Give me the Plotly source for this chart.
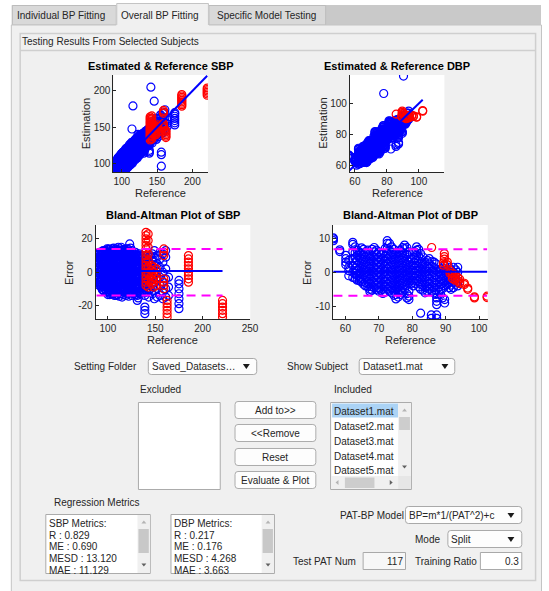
import plotly.graph_objects as go

W, H = 549, 591
FONT = "Liberation Sans, Arial, Helvetica, sans-serif"
INK = "#262626"
BLUE = "#0000ff"
RED = "#ff0000"
MAGENTA = "#ff00ff"

# ---------------- data (mmHg) ----------------
# SBP: reference value of each column of beats, and the errors (estimation - reference)
sbp_blue_ref = [88, 91, 93, 95, 97, 99, 101, 103, 105, 107, 109, 111, 113, 115, 117, 119,
                121, 123, 125, 127, 129, 131, 133, 135, 137, 139, 141, 143, 145, 147, 149,
                152, 155, 158, 161, 164, 175]
sbp_blue_err = [
    [-5, -2, 1, 4, 7, 10],
    [-8, -3, 3, 9, 12],
    [-9, -6, -3, 0, 3, 6, 9, 12],
    [-11, -7, -1, 5, 11, 13],
    [-10, -7, -4, -1, 2, 5, 8, 11, 13],
    [-12, -8, -2, 4, 10, 14],
    [-12, -9, -6, -3, 0, 3, 6, 9, 12, 14],
    [-13, -7, -1, 5, 11],
    [-13, -10, -7, -4, -1, 2, 5, 8, 11, 14],
    [-14, -8, -2, 4, 10, 13],
    [-14, -11, -8, -5, -2, 1, 4, 7, 10, 13],
    [-12, -6, 0, 6, 12, 15],
    [-13, -10, -7, -4, -1, 2, 5, 8, 11, 14],
    [-15, -9, -3, 3, 9, 13],
    [-12, -9, -6, -3, 0, 3, 6, 9, 12],
    [-14, -8, -2, 4, 10, 14],
    [-13, -10, -7, -4, -1, 2, 5, 8, 11, 14],
    [-12, -6, 0, 6, 12, 17],
    [-14, -11, -8, -5, -2, 1, 4, 7, 10, 13],
    [-13, -7, -1, 5, 11],
    [-12, -9, -6, -3, 0, 3, 6, 9, 12],
    [-17, -14, -8, -2, 4, 10],
    [-13, -10, -7, -4, -1, 2, 5, 8, 11],
    [-12, -6, 0, 6, 10],
    [-11, -8, -5, -2, 1, 4, 7, 10],
    [-25, -23, -21, -14, -9, -3, 3, 8],
    [-12, -8, -4, 0, 4, 8],
    [-15, -11, -7, -3, 1, 5, 9],
    [-10, -5, 0, 5, 10],
    [-13, -9, -4, 2, 7, 11],
    [-16, -11, -6, -1, 4, 9, 13],
    [-15, -10, -5, 0, 5, 10],
    [-14, -8, -3, 3, 8, 12],
    [-16, -12, -6, 0, 6, 11],
    [-15, -10, -4, 2, 9, 13],
    [-14, -9, -3],
    [-22, -19, -16, -13, -10, -7, -5],
]
sbp_blue_ref2 = [90, 92, 94, 96, 98, 100, 102, 104, 106, 108, 110, 112, 114, 116, 118,
                 120, 122, 124, 126, 128, 130, 132, 134, 136, 138]
sbp_blue_err2 = [
    [-6.5, -3.5, -0.5, 2.5, 5.5, 8.5, 11],
    [-7.5, -4.5, -1.5, 1.5, 4.5, 7.5, 10.5],
    [-10.5, -7.5, -4.5, -1.5, 1.5, 4.5, 7.5, 10.5, 12.5],
    [-11.5, -8.5, -5.5, -2.5, 0.5, 3.5, 6.5, 9.5, 12.5],
    [-11.5, -8.5, -5.5, -2.5, 0.5, 3.5, 6.5, 9.5, 12.5],
    [-13.5, -10.5, -7.5, -4.5, -1.5, 1.5, 4.5, 7.5, 10.5, 13.5],
    [-13.5, -10.5, -7.5, -4.5, -1.5, 1.5, 4.5, 7.5, 10.5, 13.5],
    [-11.5, -8.5, -5.5, -2.5, 0.5, 3.5, 6.5, 9.5, 12.5],
    [-11.5, -8.5, -5.5, -2.5, 0.5, 3.5, 6.5, 9.5, 12.5, 14.5],
    [-12.5, -9.5, -6.5, -3.5, -0.5, 2.5, 5.5, 8.5, 11.5, 14],
    [-13.5, -10.5, -7.5, -4.5, -1.5, 1.5, 4.5, 7.5, 10.5, 13.5],
    [-14.5, -11.5, -8.5, -5.5, -2.5, 0.5, 3.5, 6.5, 9.5, 12.5],
    [-11.5, -8.5, -5.5, -2.5, 0.5, 3.5, 6.5, 9.5, 12.5, 15],
    [-13.5, -10.5, -7.5, -4.5, -1.5, 1.5, 4.5, 7.5, 10.5, 13.5],
    [-10.5, -7.5, -4.5, -1.5, 1.5, 4.5, 7.5, 10.5, 13.5],
    [-11.5, -8.5, -5.5, -2.5, 0.5, 3.5, 6.5, 9.5, 12.5],
    [-14.5, -11.5, -8.5, -5.5, -2.5, 0.5, 3.5, 6.5, 9.5, 12.5],
    [-12.5, -9.5, -6.5, -3.5, -0.5, 2.5, 5.5, 8.5, 11.5, 14.5],
    [-12.5, -9.5, -6.5, -3.5, -0.5, 2.5, 5.5, 8.5, 11.5],
    [-11.5, -8.5, -5.5, -2.5, 0.5, 3.5, 6.5, 9.5, 12],
    [-13.5, -10.5, -7.5, -4.5, -1.5, 1.5, 4.5, 7.5, 10.5],
    [-15.5, -11.5, -8.5, -5.5, -2.5, 0.5, 3.5, 6.5, 9.5],
    [-11.5, -8.5, -5.5, -2.5, 0.5, 3.5, 6.5, 9.5],
    [-9.5, -6.5, -3.5, -0.5, 2.5, 5.5, 8.5],
    [-12.5, -9.5, -6.5, -3.5, -0.5, 2.5, 5.5],
]
sbp_blue_far_ref = [141.2, 145.9, 115.8, 114.4, 156.0, 156.0, 156.0]
sbp_blue_far_err = [64.0, 40.0, 63.5, 33.0, -40.6, -44.0, -60.0]

sbp_red_ref = [140.2, 142.5, 146, 148.5, 151, 159, 162.5, 185, 221]
sbp_red_err = [
    [24, 22, 20, 18, 16, 14, 12, 10, 8, 6, 4, 2, 0, -2, -4, -6, -8],
    [23, 19, 15, 11, 7, 3, -1, -5, -9],
    [4, 1, -2, -5, -7],
    [3, 0, -3, -6, -9],
    [2, -1, -4, -8],
    [14, 12, 10, -4, -6, -8, -10],
    [-17, -19, -21, -23, -25, -27],
    [10, 8, 6, 4, 2, 0, -2, -4, -6],
    [-17, -19, -21, -23, -25, -27],
]

# DBP
dbp_blue_ref = [56.4, 58.3, 60.1, 61.0, 62.2, 63.5, 64.8, 66.0, 67.3, 68.6, 69.9, 71.2,
                72.5, 73.8, 75.1, 76.4, 77.7, 79.0, 80.3, 81.3, 82.5, 83.8, 85.1, 85.7,
                86.5, 87.3, 88.5, 89.7, 91.0, 92.3, 93.6]
dbp_blue_err = [
    [9.3, 9.8, 10.1],
    [6.6, 6.1],
    [5.0, 4.0, 3.0, 2.2],
    [3.5, 1.5, 0.5, -1.0],
    [8.8, 8.2, 6.0, 4.0, 2.0, 0.0, -1.5],
    [6.5, 5.0, 3.5, 2.0, 0.5, -1.0, -2.3],
    [7.2, 5.5, 4.0, 2.5, 1.0, -0.5, -2.0, -2.8],
    [6.0, 4.5, 3.0, 1.5, 0.0, -1.5, -3.0, -4.0],
    [5.5, 4.0, 2.5, 1.0, -0.5, -2.0, -3.5, -5.0, -5.6],
    [7.3, 6.0, 4.5, 3.0, 1.5, 0.0, -1.5, -3.0, -4.5],
    [6.0, 4.5, 3.0, 1.5, 0.0, -1.5, -3.0, -4.5, -5.5],
    [5.5, 4.0, 2.5, 1.0, -0.5, -2.0, -3.5, -5.0, -6.2],
    [9.3, 8.5, 7.0, 5.5, 4.0, 2.5, 1.0, -0.5, -2.0, -3.5, -5.0],
    [7.5, 6.0, 4.5, 3.0, 1.5, 0.0, -1.5, -3.0, -4.5, -6.0],
    [5.5, 4.0, 2.5, 1.0, -0.5, -2.0, -3.5, -5.0, -6.5, -7.8],
    [6.5, 5.0, 3.5, 2.0, 0.5, -1.0, -2.5, -4.0, -5.5, -6.5],
    [8.0, 7.0, 5.5, 4.0, 2.5, 1.0, -0.5, -2.0, -3.5, -5.0],
    [6.0, 4.5, 3.0, 1.5, 0.0, -1.5, -3.0, -5.5, -7.0, -8.0],
    [2.0, 0.5, -1.0, -2.5, -4.0],
    [7.5, 6.5, 5.0, 3.5, 2.0, 0.5, -1.0, -2.5],
    [5.5, 4.0, 2.5, 1.0, -0.5, -2.0, -3.5, -5.0, -12.0],
    [3.0, 1.5, 0.0, -1.5, -3.0, -4.5, -6.0],
    [4.0, 2.5, 1.0, -0.5, -2.0, -3.5, -5.0],
    [-12.5, -13.5],
    [3.0, 1.5, 0.0, -1.5, -3.0, -4.5, -6.0],
    [-7.5, -8.5, -9.5, -12.5, -13.5],
    [1.0, -0.5, -2.0, -3.5, -5.0, -6.5],
    [2.0, 0.5, -1.0, -2.5, -4.0, -8.0, -9.0],
    [1.5, 0.0, -1.5, -3.0, -4.5],
    [1.5, 0.0, -1.5, -3.0, -4.5],
    [1.5, 0.0, -1.5, -3.0, -4.0],
]
dbp_blue_ref2 = [62.9, 64.2, 65.4, 66.7, 68.0, 69.3, 70.6, 71.9, 73.2, 74.5, 75.8, 77.1,
                 78.4, 79.7, 80.8, 81.9, 83.2, 84.5, 85.9, 87.1, 88.0, 89.1, 90.4, 91.6, 93.0]
dbp_blue_err2 = [
    [7.5, 5.75, 4.25, 2.75, 1.25, -0.25, -1.75],
    [6.0, 4.25, 2.75, 1.25, -0.25, -1.75, -2.5],
    [6.75, 5.25, 3.75, 2.25, 0.75, -0.75, -2.25, -3.5],
    [6.5, 4.75, 3.25, 1.75, 0.25, -1.25, -2.75, -4.25],
    [6.75, 4.75, 3.25, 1.75, 0.25, -1.25, -2.75, -4.25, -5.25],
    [6.5, 5.25, 3.75, 2.25, 0.75, -0.75, -2.25, -3.75, -5.0],
    [5.25, 3.75, 2.25, 0.75, -0.75, -2.25, -3.75, -5.25],
    [7.0, 4.75, 3.25, 1.75, 0.25, -1.25, -2.75, -4.25, -5.75],
    [8.5, 6.25, 4.75, 3.25, 1.75, 0.25, -1.25, -2.75, -4.25, -5.5],
    [6.75, 5.25, 3.75, 2.25, 0.75, -0.75, -2.25, -3.75, -5.25, -6.75],
    [6.0, 4.75, 3.25, 1.75, 0.25, -1.25, -2.75, -4.25, -5.75, -7.25],
    [7.25, 5.75, 4.25, 2.75, 1.25, -0.25, -1.75, -3.25, -4.75, -6.0],
    [7.25, 5.25, 3.75, 2.25, 0.75, -0.75, -2.25, -3.75, -6.25, -7.5],
    [4.0, 2.25, 0.75, -0.75, -2.25, -3.25],
    [6.0, 4.25, 2.75, 1.25, -0.25, -1.75, -3.25],
    [6.75, 4.75, 3.25, 1.75, 0.25, -1.25, -2.75, -4.25],
    [4.5, 2.25, 0.75, -0.75, -2.25, -3.75, -5.25],
    [3.5, 1.75, 0.25, -1.25, -2.75, -4.25, -5.5],
    [3.25, 1.75, 0.25, -1.25, -2.75, -4.25, -5.5],
    [2.5, 0.75, -0.75, -2.25, -3.75, -5.25, -6.5],
    [0.25, -1.25, -2.75, -4.25, -5.75],
    [1.25, -0.25, -1.75, -3.25, -4.75, -7.5],
    [0.75, -0.75, -2.25, -3.75],
    [0.75, -0.75, -2.25, -3.75, -5.0],
    [0.75, -0.75, -2.25, -3.5],
]
dbp_blue_far_ref = [78.0, 90.4]
dbp_blue_far_err = [28.5, 27.4]

dbp_red_ref = [85.8, 89.3, 89.6, 90.5, 91.3, 92.0, 92.8, 93.6, 94.2, 95.6, 96.6, 98.6, 102.4]
dbp_red_err = [
    [7.3], [2.8, 2.1], [5.5, 4.6, 3.9], [3.0, 2.2], [0.5, -0.3], [-0.2, -1.0, -1.8],
    [-0.8, -1.6, -2.3], [-1.5, -2.4], [-2.0, -2.8, -3.3], [-3.2, -3.6], [-4.6, -5.0],
    [-7.2, -7.5], [-7.0, -7.4],
]

# Bland-Altman mean error and limits of agreement
sbp_me, sbp_loa_hi, sbp_loa_lo = 0.690, 13.9, -14.0
dbp_me, dbp_loa_hi, dbp_loa_lo = 0.176, 6.8, -6.9

# axis limits and ticks
sbp_sc_range = [88, 222]
dbp_sc_xrange = [56.8, 116]
dbp_sc_yrange = [55.6, 118.5]
sbp_ba_xrange = [87, 250.3]
sbp_ba_yrange = [-28.2, 28.4]
dbp_ba_xrange = [56.3, 102.6]
dbp_ba_yrange = [-13.7, 13.9]
sbp_sc_ticks = [100, 150, 200]
dbp_sc_ticks = [60, 80, 100]
sbp_ba_xticks = [100, 150, 200, 250]
sbp_ba_yticks = [-20, 0, 20]
dbp_ba_xticks = [60, 70, 80, 90, 100]
dbp_ba_yticks = [-10, 0, 10]

# GUI texts
tab_labels = ["Individual BP Fitting", "Overall BP Fitting", "Specific Model Testing"]
button_labels = ["Add to&gt;&gt;", "&lt;&lt;Remove", "Reset", "Evaluate &amp; Plot"]
included_items = ["Dataset1.mat", "Dataset2.mat", "Dataset3.mat", "Dataset4.mat", "Dataset5.mat"]
sbp_metrics = ["SBP Metrics:", "R : 0.829", "ME : 0.690", "MESD : 13.120", "MAE : 11.129"]
dbp_metrics = ["DBP Metrics:", "R : 0.217", "ME : 0.176", "MESD : 4.268", "MAE : 3.663"]


def flat(refs, errs):
    assert len(refs) == len(errs)
    xs, es = [], []
    for r, col in zip(refs, errs):
        for e in col:
            xs.append(r)
            es.append(e)
    return xs, es


sbp_bx, sbp_be = flat(sbp_blue_ref + sbp_blue_ref2, sbp_blue_err + sbp_blue_err2)
sbp_bx += sbp_blue_far_ref
sbp_be += sbp_blue_far_err
sbp_rx, sbp_re = flat(sbp_red_ref, sbp_red_err)
dbp_bx, dbp_be = flat(dbp_blue_ref + dbp_blue_ref2, dbp_blue_err + dbp_blue_err2)
dbp_bx += dbp_blue_far_ref
dbp_be += dbp_blue_far_err
dbp_rx, dbp_re = flat(dbp_red_ref, dbp_red_err)

sbp_bs = [r + e for r, e in zip(sbp_bx, sbp_be)]
sbp_rs = [r + e for r, e in zip(sbp_rx, sbp_re)]
dbp_bs = [r + e for r, e in zip(dbp_bx, dbp_be)]
dbp_rs = [r + e for r, e in zip(dbp_rx, dbp_re)]

sbp_lo_ref, sbp_hi_ref = min(sbp_bx + sbp_rx), max(sbp_bx + sbp_rx)
dbp_lo_ref, dbp_hi_ref = min(dbp_bx + dbp_rx), max(dbp_bx + dbp_rx)


# ---------------- helpers ----------------
def X(px):
    return px / W


def Y(py):
    return 1 - py / H


shapes = []
annotations = []


def rect(x0, y0, x1, y1, fill=None, line=None, lw=1):
    shapes.append(dict(type="rect", xref="paper", yref="paper", layer="below",
                       x0=X(x0), x1=X(x1), y0=Y(y1), y1=Y(y0),
                       fillcolor=fill or "rgba(0,0,0,0)",
                       line=dict(color=line or "rgba(0,0,0,0)", width=lw if line else 0)))


def P(x, y):
    return f"{X(x):.6f},{Y(y):.6f}"


def path(d, fill=None, line=None, lw=1):
    shapes.append(dict(type="path", xref="paper", yref="paper", layer="below", path=d,
                       fillcolor=fill or "rgba(0,0,0,0)",
                       line=dict(color=line or "rgba(0,0,0,0)", width=lw if line else 0)))


def rrect(x0, y0, x1, y1, r=3, fill="#fdfdfd", line="#a9a9a9"):
    d = (f"M{P(x0 + r, y0)} L{P(x1 - r, y0)} Q{P(x1, y0)} {P(x1, y0 + r)} "
         f"L{P(x1, y1 - r)} Q{P(x1, y1)} {P(x1 - r, y1)} L{P(x0 + r, y1)} "
         f"Q{P(x0, y1)} {P(x0, y1 - r)} L{P(x0, y0 + r)} Q{P(x0, y0)} {P(x0 + r, y0)} Z")
    path(d, fill, line, 1)


def tri(cx, cy, w, h, color, direction="down"):
    if direction == "down":
        pts = [(cx - w / 2, cy - h / 2), (cx + w / 2, cy - h / 2), (cx, cy + h / 2)]
    elif direction == "up":
        pts = [(cx - w / 2, cy + h / 2), (cx + w / 2, cy + h / 2), (cx, cy - h / 2)]
    elif direction == "left":
        pts = [(cx + h / 2, cy - w / 2), (cx + h / 2, cy + w / 2), (cx - h / 2, cy)]
    else:
        pts = [(cx - h / 2, cy - w / 2), (cx - h / 2, cy + w / 2), (cx + h / 2, cy)]
    d = "M" + " L".join(P(a, b) for a, b in pts) + " Z"
    path(d, color, None)


def hline(x0, x1, y, color, lw=1):
    path(f"M{P(x0, y)} L{P(x1, y)}", None, color, lw)


def text(px, py, s, size=10, anchor="left", color=INK, bold=False, angle=0):
    annotations.append(dict(x=X(px), y=Y(py), xref="paper", yref="paper",
                            text=f"<b>{s}</b>" if bold else s, showarrow=False,
                            xanchor=anchor, yanchor="middle", textangle=angle,
                            borderpad=0, borderwidth=0,
                            font=dict(family=FONT, size=size, color=color)))


# ---------------- window chrome ----------------
rect(12, 5, 549, 25, fill="#c9c9c9")
rect(12.5, 5.5, 118, 25, fill="#d9d9d9", line="#bcbcbc")
rect(212, 5.5, 330.5, 25, fill="#d9d9d9", line="#bcbcbc")
rect(11.5, 25, 549.5, 592, fill="#f0f0f0", line="#c4c4c4")
rect(118, 3.5, 212, 26.5, fill="#f0f0f0")
path(f"M{P(118.5, 25)} L{P(118.5, 3.5)} L{P(211.5, 3.5)} L{P(211.5, 25)}", None, "#c4c4c4", 1)
text(17.5, 15.5, tab_labels[0])
text(122.5, 15.5, tab_labels[1])
text(220.5, 15.5, tab_labels[2])

# panel
rect(20.5, 33.5, 543.5, 580.5, line="#cfcfcf", lw=1.5)
hline(20.5, 543.5, 50.5, "#cfcfcf", 1.5)
text(22, 42, "Testing Results From Selected Subjects")

# white axes backgrounds
ax_px = {
    1: (115, 75, 211, 172),
    2: (355, 75, 451, 172),
    3: (97, 225, 254, 319),
    4: (338, 225, 495, 319),
}
for k, (a, b, c, d) in ax_px.items():
    rect(a, b, c, d, fill="white")

# titles and labels
text(163, 66.5, "Estimated &amp; Reference SBP", size=11, color="#000000", bold=True, anchor="center")
text(403, 66.5, "Estimated &amp; Reference DBP", size=11, color="#000000", bold=True, anchor="center")
text(175.5, 215, "Bland-Altman Plot of SBP", size=11, color="#000000", bold=True, anchor="center")
text(416.5, 215, "Bland-Altman Plot of DBP", size=11, color="#000000", bold=True, anchor="center")
text(163, 193, "Reference", size=11, anchor="center")
text(403, 193, "Reference", size=11, anchor="center")
text(175.5, 340, "Reference", size=11, anchor="center")
text(416.5, 340, "Reference", size=11, anchor="center")
text(88, 123.5, "Estimation", size=11, anchor="center", angle=-90)
text(328, 123.5, "Estimation", size=11, anchor="center", angle=-90)
text(70, 272, "Error", size=11, anchor="center", angle=-90)
text(311.5, 272, "Error", size=11, anchor="center", angle=-90)

# ---------------- controls ----------------
text(75.5, 366, "Setting Folder")
rrect(150.5, 358.5, 260.5, 374.5)
text(154, 366.5, "Saved_Datasets…")
tri(250, 366.5, 7, 5, "#1a1a1a")
text(291.5, 366, "Show Subject")
rrect(364.5, 358.5, 461.5, 374.5)
text(368, 366.5, "Dataset1.mat")
tri(451.5, 366.5, 7, 5, "#1a1a1a")

text(142.5, 389.5, "Excluded")
text(339, 389.5, "Included")
rect(140.5, 402.5, 223.5, 489.5, fill="white", line="#ababab")

btn_y = [(401.5, 418.5), (424.5, 441.5), (448.5, 465.5), (471.5, 488.5)]
for (y0, y1), lab in zip(btn_y, button_labels):
    rrect(238.5, y0, 320.5, y1, r=3, fill="#fdfdfd", line="#acacac")
    text(279.5, (y0 + y1) / 2 + 0.5, lab, anchor="center")

# included listbox
rect(335.5, 402.5, 417.5, 489.5, fill="white", line="#ababab")
rect(337, 403.5, 404, 417.5, fill="#abd3f5")
for i, item in enumerate(included_items):
    text(339, 411 + 15 * i, item)
rect(404, 403, 417, 476, fill="#f0f0f0")
rect(405, 417, 416, 430, fill="#cdcdcd")
tri(410.5, 410, 5, 3, "#b4b4b4", "up")
tri(410.5, 467, 5, 3, "#606060", "down")
rect(336, 476, 404, 489, fill="#f0f0f0")
rect(350, 477.5, 380, 488, fill="#cdcdcd")
tri(342, 482.5, 5, 3, "#b4b4b4", "left")
tri(397, 482.5, 5, 3, "#606060", "right")
rect(404, 476, 417, 489, fill="#e6e6e6")

# regression metrics
text(55, 502, "Regression Metrics")
for bx0, bx1, lines in ((46.5, 152.5, sbp_metrics), (173.5, 278.5, dbp_metrics)):
    rect(bx0, 514.5, bx1, 573.5, fill="white", line="#ababab")
    rect(bx1 - 13, 515, bx1 - 0.5, 573, fill="#f0f0f0")
    rect(bx1 - 12, 529, bx1 - 1.5, 553, fill="#c8c8c8")
    tri(bx1 - 6.5, 522, 5, 3, "#b4b4b4", "up")
    tri(bx1 - 6.5, 565, 5, 3, "#606060", "down")
    for i, s in enumerate(lines):
        text(bx0 + 3, 523.5 + 11.7 * i, s)

text(409.5, 515, "PAT-BP Model", anchor="right")
rrect(411.5, 506.5, 529.5, 523.5)
text(415, 515.5, "BP=m*1/(PAT^2)+c")
tri(518.5, 515.5, 7, 5, "#1a1a1a")
text(447, 539.5, "Mode", anchor="right")
rrect(454.5, 530.5, 529.5, 547.5)
text(457.5, 539.5, "Split")
tri(518.5, 539.5, 7, 5, "#1a1a1a")
text(297.5, 561, "Test PAT Num")
rect(368.5, 552.5, 411.5, 569.5, fill="#f7f7f7", line="#a9a9a9")
text(409, 561, "117", anchor="right")
text(421, 561, "Training Ratio")
rect(487.5, 552.5, 529.5, 569.5, fill="white", line="#a9a9a9")
text(527, 561, "0.3", anchor="right")

# ---------------- traces ----------------
fig = go.Figure()


def markers(x, y, color, n):
    xa = "x" if n == 1 else f"x{n}"
    ya = "y" if n == 1 else f"y{n}"
    fig.add_trace(go.Scatter(x=x, y=y, mode="markers", xaxis=xa, yaxis=ya, hoverinfo="skip",
                             marker=dict(symbol="circle-open", size=8, color=color,
                                         line=dict(width=1.2, color=color))))


def seg(x, y, color, n, dash=None):
    xa = "x" if n == 1 else f"x{n}"
    ya = "y" if n == 1 else f"y{n}"
    fig.add_trace(go.Scatter(x=x, y=y, mode="lines", xaxis=xa, yaxis=ya, hoverinfo="skip",
                             line=dict(color=color, width=2, dash=dash)))


markers(sbp_bx, sbp_bs, BLUE, 1)
markers(sbp_rx, sbp_rs, RED, 1)
seg([sbp_lo_ref, sbp_hi_ref], [sbp_lo_ref, sbp_hi_ref], BLUE, 1)

markers(dbp_bx, dbp_bs, BLUE, 2)
markers(dbp_rx, dbp_rs, RED, 2)
seg([dbp_lo_ref, dbp_hi_ref], [dbp_lo_ref, dbp_hi_ref], BLUE, 2)

markers(sbp_bx, sbp_be, BLUE, 3)
markers(sbp_rx, sbp_re, RED, 3)
seg([sbp_lo_ref, sbp_hi_ref], [sbp_me, sbp_me], BLUE, 3)
seg([sbp_lo_ref, sbp_hi_ref], [sbp_loa_hi, sbp_loa_hi], MAGENTA, 3, "9px,6px")
seg([sbp_lo_ref, sbp_hi_ref], [sbp_loa_lo, sbp_loa_lo], MAGENTA, 3, "9px,6px")

markers(dbp_bx, dbp_be, BLUE, 4)
markers(dbp_rx, dbp_re, RED, 4)
seg([dbp_lo_ref, dbp_hi_ref], [dbp_me, dbp_me], BLUE, 4)
seg([dbp_lo_ref, dbp_hi_ref], [dbp_loa_hi, dbp_loa_hi], MAGENTA, 4, "9px,6px")
seg([dbp_lo_ref, dbp_hi_ref], [dbp_loa_lo, dbp_loa_lo], MAGENTA, 4, "9px,6px")


def axis(domain, rng, ticks, anchor):
    return dict(domain=domain, range=rng, anchor=anchor, tickmode="array", tickvals=ticks,
                ticktext=[str(t) for t in ticks], showline=True, linecolor=INK, linewidth=1,
                ticks="inside", ticklen=3, tickwidth=1, tickcolor=INK, showgrid=False,
                zeroline=False, fixedrange=True, tickfont=dict(family=FONT, size=10, color=INK))


def xdom(n):
    a, b, c, d = ax_px[n]
    return [X(a), X(c)]


def ydom(n):
    a, b, c, d = ax_px[n]
    return [Y(d), Y(b)]


fig.update_layout(
    width=W, height=H, autosize=False,
    margin=dict(l=0, r=0, t=0, b=0, pad=0),
    paper_bgcolor="white", plot_bgcolor="rgba(0,0,0,0)",
    showlegend=False,
    xaxis=axis(xdom(1), sbp_sc_range, sbp_sc_ticks, "y"),
    yaxis=axis(ydom(1), sbp_sc_range, sbp_sc_ticks, "x"),
    xaxis2=axis(xdom(2), dbp_sc_xrange, dbp_sc_ticks, "y2"),
    yaxis2=axis(ydom(2), dbp_sc_yrange, dbp_sc_ticks, "x2"),
    xaxis3=axis(xdom(3), sbp_ba_xrange, sbp_ba_xticks, "y3"),
    yaxis3=axis(ydom(3), sbp_ba_yrange, sbp_ba_yticks, "x3"),
    xaxis4=axis(xdom(4), dbp_ba_xrange, dbp_ba_xticks, "y4"),
    yaxis4=axis(ydom(4), dbp_ba_yrange, dbp_ba_yticks, "x4"),
    shapes=shapes,
    annotations=annotations,
)

fig.write_html("out.html", config={"displayModeBar": False, "staticPlot": True},
               post_script="document.body.style.margin='0';document.body.style.overflow='hidden';")
